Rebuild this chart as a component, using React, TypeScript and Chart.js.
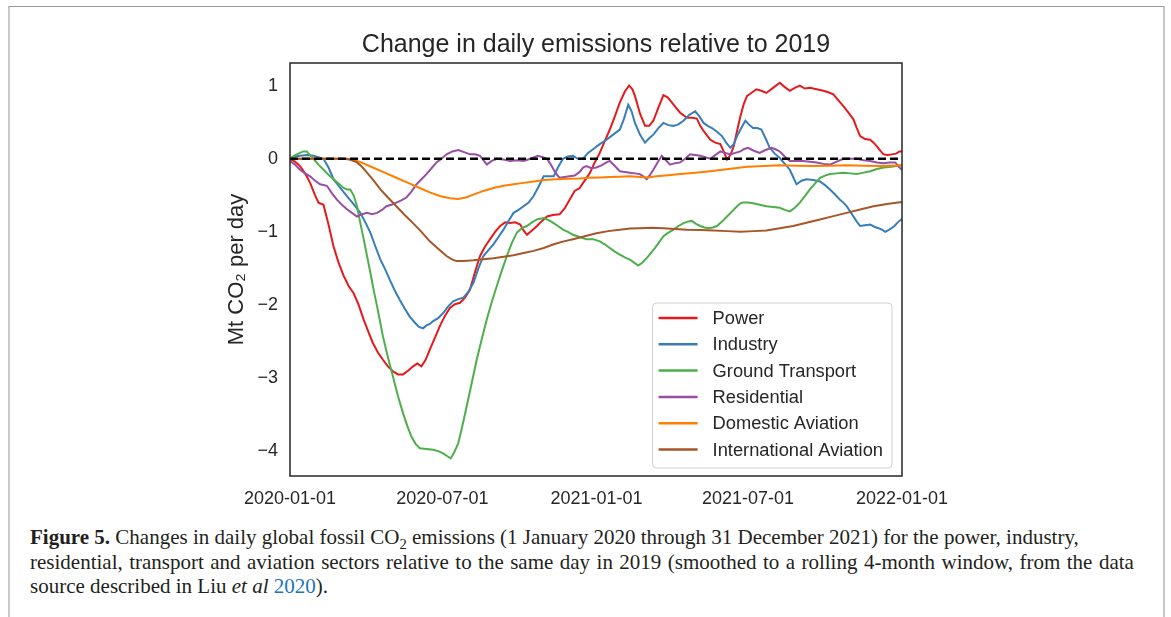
import React, { useEffect, useRef } from 'react';
import { Chart, registerables } from 'chart.js';

Chart.register(...registerables);

// x = days since 2020-01-01, y = Mt CO2 per day
const power: [number, number][] = [[0,0],[6,-0.04],[12,-0.1],[18,-0.2],[24,-0.33],[30,-0.5],[34,-0.6],[40,-0.63],[46,-0.9],[52,-1.2],[58,-1.42],[64,-1.6],[70,-1.74],[76,-1.84],[82,-2.0],[88,-2.2],[94,-2.38],[99,-2.52],[105,-2.65],[111,-2.75],[117,-2.84],[123,-2.91],[129,-2.95],[135,-2.95],[141,-2.9],[147,-2.84],[152,-2.8],[157,-2.84],[162,-2.75],[167,-2.61],[173,-2.45],[179,-2.29],[185,-2.15],[191,-2.04],[197,-1.99],[203,-1.97],[209,-1.9],[215,-1.79],[221,-1.55],[227,-1.33],[233,-1.2],[239,-1.1],[245,-1.0],[251,-0.92],[257,-0.87],[263,-0.88],[269,-0.87],[275,-0.9],[279,-0.98],[283,-1.04],[289,-0.98],[295,-0.92],[301,-0.85],[307,-0.79],[314,-0.77],[322,-0.76],[328,-0.68],[334,-0.56],[340,-0.44],[346,-0.4],[352,-0.3],[358,-0.2],[364,-0.05],[370,0.08],[376,0.24],[382,0.4],[388,0.58],[394,0.77],[400,0.92],[405,1.0],[409,0.95],[412,0.86],[418,0.62],[424,0.45],[429,0.45],[434,0.52],[440,0.7],[446,0.87],[451,0.84],[456,0.77],[461,0.7],[466,0.63],[474,0.56],[480,0.56],[486,0.55],[490,0.45],[494,0.38],[502,0.26],[508,0.22],[514,0.2],[518,0.1],[522,-0.01],[526,0.05],[530,0.17],[534,0.38],[538,0.58],[542,0.75],[546,0.86],[551,0.9],[557,0.95],[563,0.93],[569,0.9],[577,0.97],[585,1.04],[591,0.98],[597,0.93],[603,0.97],[609,1.0],[615,0.96],[621,0.97],[629,0.95],[637,0.93],[643,0.91],[649,0.88],[655,0.8],[661,0.72],[667,0.63],[673,0.54],[677,0.42],[681,0.31],[687,0.27],[693,0.26],[697,0.22],[701,0.17],[705,0.11],[709,0.06],[714,0.05],[719,0.06],[724,0.07],[728,0.1],[731,0.1]];

const industry: [number, number][] = [[0,0],[6,0.03],[12,0.04],[20,0.05],[28,0.04],[34,0.02],[40,0.0],[46,-0.12],[52,-0.28],[60,-0.4],[68,-0.51],[76,-0.62],[84,-0.74],[90,-0.87],[96,-1.01],[102,-1.2],[108,-1.38],[114,-1.52],[119,-1.65],[125,-1.8],[131,-1.93],[137,-2.05],[143,-2.16],[149,-2.24],[154,-2.3],[159,-2.32],[163,-2.28],[167,-2.26],[171,-2.22],[177,-2.18],[183,-2.11],[189,-2.02],[195,-1.95],[201,-1.92],[207,-1.9],[213,-1.82],[219,-1.7],[225,-1.5],[231,-1.33],[237,-1.25],[243,-1.17],[249,-1.07],[255,-0.97],[261,-0.85],[267,-0.74],[273,-0.7],[279,-0.65],[285,-0.6],[291,-0.51],[297,-0.38],[303,-0.24],[309,-0.24],[315,-0.24],[320,-0.12],[326,0.0],[332,0.03],[338,0.04],[344,0.0],[350,0.0],[356,0.08],[362,0.13],[370,0.2],[378,0.26],[386,0.33],[394,0.4],[399,0.55],[404,0.74],[408,0.65],[412,0.49],[418,0.33],[424,0.22],[429,0.28],[434,0.33],[440,0.42],[446,0.49],[452,0.46],[458,0.45],[464,0.47],[470,0.52],[477,0.6],[484,0.65],[489,0.58],[494,0.49],[499,0.45],[504,0.42],[510,0.37],[516,0.31],[521,0.22],[526,0.15],[530,0.2],[534,0.31],[539,0.42],[544,0.52],[548,0.47],[553,0.42],[558,0.42],[563,0.4],[568,0.28],[573,0.15],[579,0.07],[585,0.01],[591,-0.07],[597,-0.15],[601,-0.25],[605,-0.35],[611,-0.3],[617,-0.28],[625,-0.29],[633,-0.31],[639,-0.36],[645,-0.42],[651,-0.49],[657,-0.56],[661,-0.6],[665,-0.65],[669,-0.72],[673,-0.79],[677,-0.86],[681,-0.92],[687,-0.91],[693,-0.9],[698,-0.93],[703,-0.95],[707,-0.97],[711,-1.0],[716,-0.97],[722,-0.92],[726,-0.87],[731,-0.82]];

const groundTransport: [number, number][] = [[0,0],[6,0.05],[12,0.08],[16,0.1],[20,0.1],[24,0.05],[28,0.0],[34,-0.08],[40,-0.15],[46,-0.22],[52,-0.28],[58,-0.34],[64,-0.4],[68,-0.42],[72,-0.42],[76,-0.5],[80,-0.65],[84,-0.88],[88,-1.1],[92,-1.33],[96,-1.56],[100,-1.8],[104,-2.02],[108,-2.25],[111,-2.43],[117,-2.72],[123,-2.98],[129,-3.25],[135,-3.48],[140,-3.65],[145,-3.8],[150,-3.9],[155,-3.96],[163,-3.97],[171,-3.98],[177,-4.0],[183,-4.03],[188,-4.07],[192,-4.1],[196,-4.02],[201,-3.89],[206,-3.65],[211,-3.39],[217,-3.07],[223,-2.75],[229,-2.47],[235,-2.2],[241,-1.96],[247,-1.74],[253,-1.53],[259,-1.33],[265,-1.15],[271,-1.01],[277,-0.95],[283,-0.92],[289,-0.87],[295,-0.83],[303,-0.81],[309,-0.84],[315,-0.88],[320,-0.92],[326,-0.97],[332,-1.0],[338,-1.04],[346,-1.07],[354,-1.1],[362,-1.1],[370,-1.13],[376,-1.17],[382,-1.22],[388,-1.27],[394,-1.31],[400,-1.35],[406,-1.38],[411,-1.42],[416,-1.46],[421,-1.42],[426,-1.36],[431,-1.29],[436,-1.22],[441,-1.14],[446,-1.06],[452,-1.01],[458,-0.97],[464,-0.92],[470,-0.88],[475,-0.86],[480,-0.85],[485,-0.89],[490,-0.92],[495,-0.94],[500,-0.95],[505,-0.94],[510,-0.92],[516,-0.86],[522,-0.79],[528,-0.72],[534,-0.65],[538,-0.61],[541,-0.6],[547,-0.6],[553,-0.61],[561,-0.63],[569,-0.65],[577,-0.66],[585,-0.67],[591,-0.7],[597,-0.72],[603,-0.67],[609,-0.6],[615,-0.51],[621,-0.42],[627,-0.34],[633,-0.26],[639,-0.23],[645,-0.21],[653,-0.2],[661,-0.19],[669,-0.2],[677,-0.21],[685,-0.19],[693,-0.17],[701,-0.14],[709,-0.12],[718,-0.11],[724,-0.1],[731,-0.09]];

const residential: [number, number][] = [[0,-0.03],[6,-0.08],[12,-0.15],[18,-0.2],[24,-0.24],[30,-0.3],[36,-0.35],[44,-0.37],[50,-0.47],[56,-0.56],[62,-0.63],[68,-0.69],[74,-0.74],[80,-0.79],[86,-0.76],[92,-0.74],[98,-0.76],[104,-0.74],[110,-0.7],[115,-0.65],[121,-0.63],[127,-0.6],[133,-0.57],[139,-0.53],[145,-0.45],[151,-0.35],[157,-0.28],[163,-0.21],[169,-0.13],[175,-0.05],[181,0.0],[187,0.06],[194,0.1],[201,0.12],[208,0.09],[215,0.06],[221,0.06],[227,0.04],[231,-0.02],[235,-0.08],[241,-0.03],[247,0.0],[255,-0.01],[263,-0.03],[271,-0.02],[279,-0.03],[287,0.0],[296,0.04],[302,0.02],[307,0.0],[311,-0.07],[315,-0.15],[319,-0.22],[322,-0.26],[328,-0.25],[334,-0.24],[340,-0.23],[346,-0.18],[350,-0.12],[354,-0.1],[360,-0.13],[366,-0.12],[372,-0.09],[378,-0.05],[382,-0.03],[388,-0.1],[394,-0.17],[400,-0.18],[406,-0.19],[412,-0.2],[418,-0.21],[422,-0.24],[426,-0.28],[430,-0.22],[434,-0.15],[439,-0.05],[444,0.04],[449,-0.02],[454,-0.08],[460,-0.06],[466,-0.05],[472,0.0],[478,0.06],[484,0.05],[490,0.04],[496,0.02],[502,0.0],[508,0.05],[514,0.1],[520,0.08],[526,0.06],[532,0.08],[538,0.1],[542,0.13],[547,0.15],[554,0.11],[561,0.08],[568,0.12],[575,0.15],[580,0.13],[585,0.1],[591,0.03],[597,-0.03],[605,-0.03],[613,-0.03],[621,-0.04],[629,-0.05],[637,-0.07],[645,-0.08],[653,-0.04],[661,0.0],[669,0.0],[677,0.0],[685,-0.02],[693,-0.03],[701,-0.05],[709,-0.06],[716,-0.05],[723,-0.05],[728,-0.12],[731,-0.15]];

const domesticAviation: [number, number][] = [[0,0],[30,0],[60,0],[75,-0.01],[85,-0.05],[99,-0.12],[113,-0.19],[127,-0.26],[141,-0.33],[155,-0.4],[167,-0.46],[179,-0.51],[191,-0.54],[201,-0.55],[210,-0.53],[219,-0.49],[231,-0.44],[243,-0.4],[255,-0.37],[267,-0.35],[279,-0.33],[291,-0.31],[304,-0.29],[318,-0.28],[332,-0.275],[346,-0.27],[358,-0.26],[370,-0.255],[382,-0.25],[394,-0.245],[406,-0.24],[418,-0.25],[426,-0.255],[438,-0.24],[452,-0.225],[466,-0.21],[484,-0.19],[502,-0.17],[524,-0.14],[546,-0.11],[566,-0.1],[585,-0.09],[605,-0.095],[625,-0.1],[645,-0.095],[665,-0.09],[685,-0.095],[705,-0.1],[720,-0.095],[731,-0.09]];

const internationalAviation: [number, number][] = [[0,0],[30,0],[60,0],[68,0],[74,-0.02],[80,-0.05],[86,-0.11],[92,-0.19],[100,-0.3],[108,-0.42],[117,-0.53],[127,-0.65],[137,-0.77],[147,-0.88],[157,-1.0],[167,-1.13],[177,-1.23],[187,-1.33],[194,-1.38],[199,-1.4],[205,-1.4],[212,-1.395],[219,-1.39],[231,-1.375],[243,-1.36],[255,-1.34],[267,-1.32],[279,-1.29],[291,-1.26],[303,-1.22],[315,-1.17],[327,-1.13],[338,-1.1],[352,-1.06],[366,-1.02],[380,-0.99],[394,-0.97],[406,-0.955],[418,-0.95],[432,-0.945],[446,-0.95],[460,-0.96],[474,-0.97],[490,-0.975],[506,-0.98],[522,-0.99],[538,-1.0],[554,-0.99],[569,-0.98],[585,-0.95],[601,-0.92],[617,-0.875],[633,-0.83],[649,-0.785],[665,-0.74],[681,-0.695],[697,-0.65],[713,-0.62],[731,-0.59]];

const zeroLine: [number, number][] = [[0,0],[731,0]];

const seriesNames = ['Power', 'Industry', 'Ground Transport', 'Residential', 'Domestic Aviation', 'International Aviation'];
const seriesColors = ['#e41a1c', '#377eb8', '#4daf4a', '#984ea3', '#ff7f00', '#a65628'];
const seriesData = [power, industry, groundTransport, residential, domesticAviation, internationalAviation];

const xTickDays = [0, 182, 366, 547, 731];
const xTickLabels = ['2020-01-01', '2020-07-01', '2021-01-01', '2021-07-01', '2022-01-01'];
const yTickValues = [-4, -3, -2, -1, 0, 1];

const titleText = 'Change in daily emissions relative to 2019';
const yAxisTitle = 'Mt CO\u2082 per day';

const SANS = '"Liberation Sans", Arial, Helvetica, sans-serif';
const INK = '#262626';

const decorPlugin = {
  id: 'decor',
  afterDraw(chart: any) {
    const { ctx, chartArea } = chart;
    const { left, right, top, bottom } = chartArea;
    ctx.save();
    // frame
    ctx.strokeStyle = INK;
    ctx.lineWidth = 1.5;
    ctx.strokeRect(left, top, right - left, bottom - top);
    // title
    ctx.fillStyle = INK;
    ctx.font = `25px ${SANS}`;
    ctx.textAlign = 'center';
    ctx.textBaseline = 'middle';
    ctx.fillText(titleText, (left + right) / 2, top - 18);
    // legend
    ctx.font = `18.3px ${SANS}`;
    const labelW = Math.max(...seriesNames.map((n) => ctx.measureText(n).width));
    const boxW = 6 + 39 + 15 + labelW + 9;
    const boxH = 165;
    const bx = right - 10 - boxW;
    const by = bottom - 8 - boxH;
    const r = 4;
    ctx.beginPath();
    ctx.moveTo(bx + r, by);
    ctx.lineTo(bx + boxW - r, by);
    ctx.arcTo(bx + boxW, by, bx + boxW, by + r, r);
    ctx.lineTo(bx + boxW, by + boxH - r);
    ctx.arcTo(bx + boxW, by + boxH, bx + boxW - r, by + boxH, r);
    ctx.lineTo(bx + r, by + boxH);
    ctx.arcTo(bx, by + boxH, bx, by + boxH - r, r);
    ctx.lineTo(bx, by + r);
    ctx.arcTo(bx, by, bx + r, by, r);
    ctx.closePath();
    ctx.fillStyle = 'rgba(255,255,255,0.8)';
    ctx.fill();
    ctx.strokeStyle = '#d0d0d0';
    ctx.lineWidth = 1;
    ctx.stroke();
    ctx.textAlign = 'left';
    ctx.textBaseline = 'middle';
    seriesNames.forEach((name, i) => {
      const cy = by + 15 + i * 26.3;
      ctx.strokeStyle = seriesColors[i];
      ctx.lineWidth = 2.5;
      ctx.beginPath();
      ctx.moveTo(bx + 6, cy);
      ctx.lineTo(bx + 45, cy);
      ctx.stroke();
      ctx.fillStyle = INK;
      ctx.fillText(name, bx + 60, cy + 1);
    });
    ctx.restore();
  },
};

export default function App() {
  const canvasRef = useRef<HTMLCanvasElement>(null);

  useEffect(() => {
    document.body.style.margin = '0';
    const canvas = canvasRef.current;
    if (!canvas) return;
    const toXY = (arr: [number, number][]) => arr.map(([x, y]) => ({ x, y }));
    const datasets: any[] = seriesData.map((d, i) => ({
      label: seriesNames[i],
      data: toXY(d),
      borderColor: seriesColors[i],
      backgroundColor: seriesColors[i],
      borderWidth: 2,
      pointRadius: 0,
      tension: 0,
      fill: false,
      order: seriesData.length - i,
    }));
    datasets.push({
      label: 'zero',
      data: toXY(zeroLine),
      borderColor: '#000000',
      borderWidth: 2.5,
      borderDash: [8, 4],
      pointRadius: 0,
      fill: false,
      order: 0,
    });

    const chart = new Chart(canvas, {
      type: 'line',
      data: { datasets },
      options: {
        animation: false,
        responsive: false,
        devicePixelRatio: 1,
        layout: { padding: { left: 200, right: 269, top: 63, bottom: 0 } },
        plugins: {
          legend: { display: false },
          title: { display: false },
          tooltip: { enabled: false },
        },
        scales: {
          x: {
            type: 'linear',
            min: 0,
            max: 731,
            grid: { display: false, drawTicks: false },
            border: { display: false },
            ticks: {
              font: { family: SANS, size: 18 },
              color: INK,
              padding: 12,
              maxRotation: 0,
              autoSkip: false,
              callback: (_v: any, i: number) => xTickLabels[i],
            },
            afterBuildTicks: (s: any) => {
              s.ticks = xTickDays.map((v) => ({ value: v }));
            },
            afterFit: (s: any) => {
              s.height = 44;
            },
          },
          y: {
            type: 'linear',
            min: -4.34,
            max: 1.31,
            grid: { display: false, drawTicks: false },
            border: { display: false },
            ticks: {
              font: { family: SANS, size: 18 },
              color: INK,
              padding: 12,
              callback: (v: any) => (v < 0 ? '\u2212' + Math.abs(v) : String(v)),
            },
            afterBuildTicks: (s: any) => {
              s.ticks = yTickValues.map((v) => ({ value: v }));
            },
            title: {
              display: true,
              text: yAxisTitle,
              font: { family: SANS, size: 22 },
              color: INK,
              padding: { top: 24, bottom: 0 },
            },
            afterFit: (s: any) => {
              s.width = 90;
            },
          },
        },
      },
      plugins: [decorPlugin],
    });
    return () => chart.destroy();
  }, []);

  const serif = '"Liberation Serif", "Times New Roman", serif';
  return (
    <div style={{ position: 'relative', width: 1171, height: 617, overflow: 'hidden', background: '#fff' }}>
      <div
        style={{
          position: 'absolute',
          left: 8,
          top: 6,
          width: 1157,
          height: 700,
          borderTop: '1px solid #9a9a9a',
          borderLeft: '2px solid #c8c8c8',
          borderRight: '2px solid #c8c8c8',
          boxSizing: 'border-box',
        }}
      />
      <canvas ref={canvasRef} width={1171} height={520} style={{ position: 'absolute', left: 0, top: 0 }} />
      <div
        style={{
          position: 'absolute',
          left: 30,
          top: 525,
          fontFamily: serif,
          fontSize: 21,
          lineHeight: '24.5px',
          color: '#231f20',
          whiteSpace: 'nowrap',
        }}
      >
        <div>
          <b>Figure 5.</b> Changes in daily global fossil CO<sub style={{ fontSize: '0.7em', lineHeight: 0 }}>2</sub> emissions (1 January 2020 through 31 December 2021) for the power, industry,
        </div>
        <div style={{ wordSpacing: '1.2px' }}>
          residential, transport and aviation sectors relative to the same day in 2019 (smoothed to a rolling 4-month window, from the data
        </div>
        <div>
          source described in Liu <i>et al</i> <span style={{ color: '#1b75bb' }}>2020</span>).
        </div>
      </div>
    </div>
  );
}
